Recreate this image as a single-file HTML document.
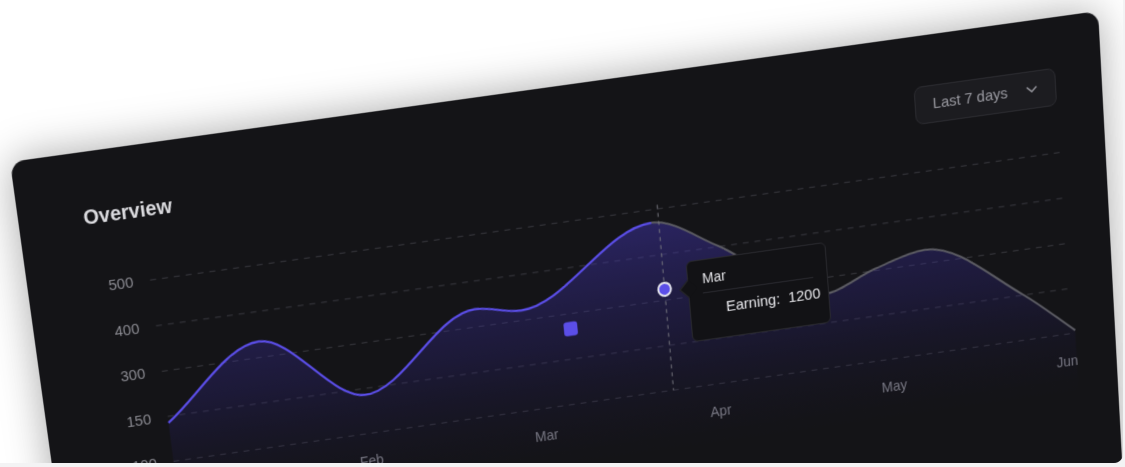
<!DOCTYPE html>
<html><head><meta charset="utf-8">
<style>
html,body{margin:0;padding:0;width:1125px;height:467px;overflow:hidden;background:#f3f3f4;font-family:"Liberation Sans",sans-serif;}
#frame{position:absolute;left:0;top:0;width:1123px;height:463px;overflow:hidden;background:#fff;border-bottom-right-radius:9px;}
#card{position:absolute;left:0;top:0;width:1100px;height:610px;background:#141417;border-radius:14px;transform-origin:0 0;box-shadow:0 0 40px rgba(0,0,0,.35);}
#chart{position:absolute;left:0;top:0;}
.abs{position:absolute;white-space:nowrap;}
</style></head>
<body>
<div id="frame">
 <div id="card">
  <svg id="chart" width="1100" height="610"></svg>
  <div id="title" class="abs" style="font-size:20px;font-weight:600;color:#dcdce0;">Overview</div>
  <div id="dropdown" class="abs" style="box-sizing:border-box;border:1px solid #2c2c31;background:#1c1c20;border-radius:8px;">
   <span id="ddtext" class="abs" style="font-size:15px;color:#9b9ba2;">Last 7 days</span>
   <svg id="chev" class="abs" width="12" height="8"><path d="M1 1.5 L6 6 L11 1.5" fill="none" stroke="#9b9ba2" stroke-width="1.5"/></svg>
  </div>
  <div id="tooltip" class="abs" style="box-sizing:border-box;background:#121215;border:1px solid #2a2a2f;border-radius:6px;">
   <div class="abs" style="left:-7px;top:20px;width:12px;height:12px;background:#121215;border-left:1px solid #2a2a2f;border-bottom:1px solid #2a2a2f;transform:rotate(45deg);"></div>
   <span class="abs" style="left:14px;top:10px;font-size:14px;color:#e4e4e8;">Mar</span>
   <div class="abs" style="left:14px;right:14px;top:32px;height:1px;background:#2a2a30;"></div>
   <span class="abs" style="left:36px;top:41px;font-size:15px;color:#e8e8ec;">Earning:&nbsp; 1200</span>
  </div>
 </div>
</div>
<script>
// ---- chart data ----
const monthLabels = ["Jan","Feb","Mar","Apr","May","Jun"];
const yTickLabels = [500,400,300,150,100];
const pointMonths = [0, 0.54, 1.08, 1.72, 1.97, 2.72, 3.07, 3.62, 3.92, 4.2, 4.72, 5];
const pointValues = [143, 335, 143, 339, 322, 472, 402, 245, 304, 330, 153, 103];
const hoverMonth = [2.76];
const hoverValue = [324];
const markerMonth = [2.23];
const markerValue = [250];

// ---- projection ----
const W=1100,H=610;
const src=[[0,0],[W,0],[W,H],[0,H]];
const dst=[[10,162],[1098,11],[1130,611],[93,762]];
function solve(A,b){const n=b.length;A=A.map((r,i)=>r.concat([b[i]]));
 for(let i=0;i<n;i++){let p=i;for(let k=i+1;k<n;k++)if(Math.abs(A[k][i])>Math.abs(A[p][i]))p=k;[A[i],A[p]]=[A[p],A[i]];
  for(let k=0;k<n;k++){if(k===i)continue;const f=A[k][i]/A[i][i];for(let j=i;j<=n;j++)A[k][j]-=f*A[i][j];}}
 return A.map((r,i)=>r[n]/r[i]);}
const Mm=[],Bb=[];
for(let i=0;i<4;i++){const [x,y]=src[i],[X,Y]=dst[i];
 Mm.push([x,y,1,0,0,0,-x*X,-y*X]);Bb.push(X);
 Mm.push([0,0,0,x,y,1,-x*Y,-y*Y]);Bb.push(Y);}
const [a,b,c,d,e,f,g,h]=solve(Mm,Bb);
document.getElementById('card').style.transform=`matrix3d(${a},${d},0,${g},${b},${e},0,${h},0,0,1,0,${c},${f},0,1)`;
const m=[a,b,c,d,e,f,g,h,1];
const det=m[0]*(m[4]*m[8]-m[5]*m[7])-m[1]*(m[3]*m[8]-m[5]*m[6])+m[2]*(m[3]*m[7]-m[4]*m[6]);
const Hi=[(m[4]*m[8]-m[5]*m[7])/det,(m[2]*m[7]-m[1]*m[8])/det,(m[1]*m[5]-m[2]*m[4])/det,
 (m[5]*m[6]-m[3]*m[8])/det,(m[0]*m[8]-m[2]*m[6])/det,(m[2]*m[3]-m[0]*m[5])/det,
 (m[3]*m[7]-m[4]*m[6])/det,(m[1]*m[6]-m[0]*m[7])/det,(m[0]*m[4]-m[1]*m[3])/det];
function inv(X,Y){const w=Hi[6]*X+Hi[7]*Y+Hi[8];return[(Hi[0]*X+Hi[1]*Y+Hi[2])/w,(Hi[3]*X+Hi[4]*Y+Hi[5])/w];}

// ---- layout (flat space) ----
const Ls=[[148,280],[155,326],[162,372],[169,416],[175,460]];
const Rs=[[1058,153],[1064,200],[1070,247],[1077,289],[1082,333]];
const gy=Ls.map((p,i)=>(inv(...p)[1]+inv(...Rs[i])[1])/2);
const plotLeft=Ls.map(p=>inv(...p)[0]).reduce((s,v)=>s+v,0)/5;
const plotRight=Rs.map(p=>inv(...p)[0]).reduce((s,v)=>s+v,0)/5;
const yTop=gy[0], yStep=(gy[4]-gy[0])/4;
function xScale(mo){return plotLeft+mo*(plotRight-plotLeft)/5;}
function yScale(v){let i=0;while(i<yTickLabels.length-2&&v<yTickLabels[i+1])i++;
 const v0=yTickLabels[i],v1=yTickLabels[i+1];return yTop+yStep*(i+(v0-v)/(v0-v1));}
function labelX(i){return plotLeft+20+i*(plotRight-plotLeft-30)/5;}

const NS="http://www.w3.org/2000/svg";
const svg=document.getElementById('chart');
function mk(tag,attrs){const el=document.createElementNS(NS,tag);for(const k in attrs)el.setAttribute(k,attrs[k]);return el;}

const defs=mk('defs',{});
const grad=mk('linearGradient',{id:'fillg',x1:0,y1:0,x2:0,y2:1,gradientUnits:'userSpaceOnUse'});
grad.setAttribute('y1',yTop-20);grad.setAttribute('y2',gy[4]+60);
grad.appendChild(mk('stop',{offset:0,'stop-color':'#4a3cc8','stop-opacity':0.5}));
grad.appendChild(mk('stop',{offset:0.55,'stop-color':'#2f2580','stop-opacity':0.3}));
grad.appendChild(mk('stop',{offset:1,'stop-color':'#1a1640','stop-opacity':0.0}));
defs.appendChild(grad);svg.appendChild(defs);

yTickLabels.forEach((t,i)=>{
 const y=yScale(t);
 const ln=mk('line',{x1:plotLeft,x2:plotRight,y1:y,y2:y,stroke:'#3a3a40','stroke-width':1,'stroke-dasharray':'6 6'});
 
 
 svg.appendChild(ln);
 const tx=mk('text',{x:plotLeft-17,y:y+5,'text-anchor':'end','font-size':15,fill:'#8b8b92','font-family':'Liberation Sans, sans-serif'});
 tx.textContent=t;
 
 
 svg.appendChild(tx);
});
monthLabels.forEach((mo,i)=>{
 const tx=mk('text',{x:labelX(i),y:gy[4]+33,'text-anchor':'middle','font-size':14,fill:'#7f7f87','font-family':'Liberation Sans, sans-serif'});
 tx.textContent=mo;
 
 
 svg.appendChild(tx);
});

const px=pointMonths.map(xScale), py=pointValues.map(yScale);
const n=px.length, dk=[], tg=[];
for(let i=0;i<n-1;i++)dk.push((py[i+1]-py[i])/(px[i+1]-px[i]));
for(let i=0;i<n;i++){
 if(i===0)tg.push(dk[0]);else if(i===n-1)tg.push(dk[n-2]);
 else tg.push(dk[i-1]*dk[i]<=0?0:(dk[i-1]+dk[i])/2);}
for(let i=0;i<n-1;i++){if(dk[i]===0){tg[i]=tg[i+1]=0;continue;}
 const al=tg[i]/dk[i],be=tg[i+1]/dk[i],s=al*al+be*be;if(s>9){const t=3/Math.sqrt(s);tg[i]=t*al*dk[i];tg[i+1]=t*be*dk[i];}}
function seg(i0,i1){let s=`M${px[i0]},${py[i0]}`;
 for(let i=i0;i<i1;i++){const dx=(px[i+1]-px[i])/3;
  s+=` C${px[i]+dx},${py[i]+tg[i]*dx} ${px[i+1]-dx},${py[i+1]-tg[i+1]*dx} ${px[i+1]},${py[i+1]}`;}
 return s;}
const split=5;
const fill=mk('path',{d:seg(0,n-1)+` L${px[n-1]},${gy[4]+70} L${px[0]},${gy[4]+70} Z`,fill:'url(#fillg)'});


svg.appendChild(fill);
const lineA=mk('path',{d:seg(0,split),fill:'none',stroke:'#5b4ee8','stroke-width':2.2});


svg.appendChild(lineA);
const lineB=mk('path',{d:seg(split,n-1),fill:'none',stroke:'#5c5c63','stroke-width':2});


svg.appendChild(lineB);

const hx=xScale(hoverMonth[0]);
const hl=mk('line',{x1:hx,x2:hx,y1:yScale(yTickLabels[0])-4,y2:yScale(yTickLabels[4]),stroke:'#77777f','stroke-width':1,'stroke-dasharray':'4 4'});


svg.appendChild(hl);
const dot=mk('circle',{cx:hx,cy:yScale(hoverValue[0]),r:6.5,fill:'#5b4ee8',stroke:'#e6e6ee','stroke-width':2});


svg.appendChild(dot);
const sq=mk('rect',{x:xScale(markerMonth[0])-7,y:yScale(markerValue[0])-7,width:14,height:14,rx:3,fill:'#5b4ee8'});


svg.appendChild(sq);

function place(id,X,Y){const p=inv(X,Y);const el=document.getElementById(id);el.style.left=p[0]+'px';el.style.top=p[1]+'px';return p;}
place('title',82,207);
const dtl=inv(913,87), dbr=inv(1057,102);
const dd=document.getElementById('dropdown');
const ddw=dbr[0]-dtl[0];
dd.style.left=dtl[0]+'px';dd.style.top=dtl[1]+'px';dd.style.width=ddw+'px';dd.style.height=(dbr[1]-dtl[1]+3)+'px';
const ddt=document.getElementById('ddtext');ddt.style.left='18px';ddt.style.top='9px';
const ch=document.getElementById('chev');ch.style.left=(ddw-32)+'px';ch.style.top='13px';
const ttl=inv(686,262), tbr=inv(831,313);
const tt=document.getElementById('tooltip');
tt.style.left=ttl[0]+'px';tt.style.top=ttl[1]+'px';tt.style.width=(tbr[0]-ttl[0])+'px';tt.style.height=(tbr[1]-ttl[1]+10)+'px';
</script>
</body></html>
